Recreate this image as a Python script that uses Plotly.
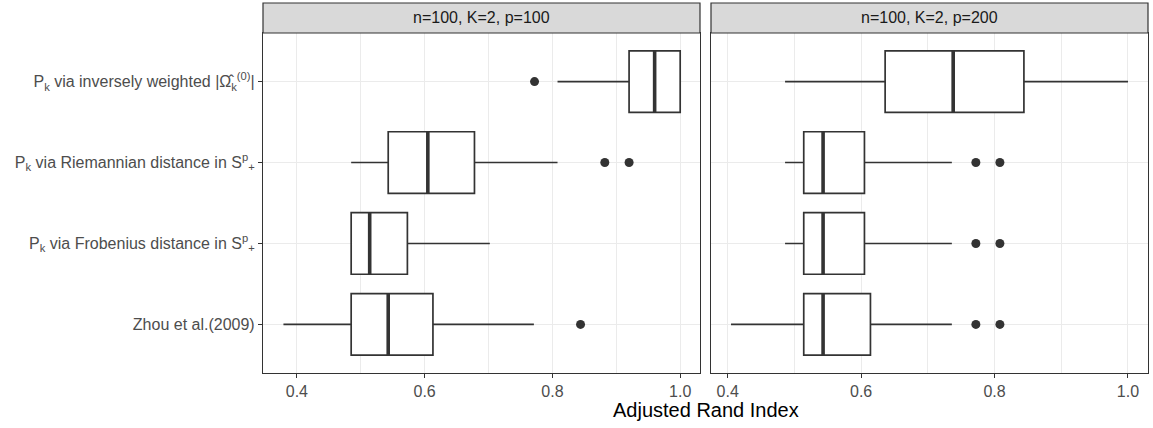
import plotly.graph_objects as go

# ---- data ----
methods = [
    "Zhou et al.(2009)",
    "P<sub>k</sub> via Frobenius distance in S<sup>p</sup><sub>+</sub>",
    "P<sub>k</sub> via Riemannian distance in S<sup>p</sup><sub>+</sub>",
    "P<sub>k</sub> via inversely weighted |Ω\u0302<sub>k</sub><sup>(0)</sup>|",
]
positions = [1, 2, 3, 4]
panels = ["n=100, K=2, p=100", "n=100, K=2, p=200"]

# panel p=100 (order: Zhou, Frobenius, Riemannian, inversely weighted)
p100_low = [0.379, 0.485, 0.485, 0.808]
p100_q1 = [0.485, 0.485, 0.543, 0.920]
p100_med = [0.543, 0.514, 0.605, 0.960]
p100_q3 = [0.613, 0.573, 0.678, 1.000]
p100_high = [0.771, 0.702, 0.808, 1.000]
p100_out_x = [0.844, 0.882, 0.920, 0.772]
p100_out_y = [1, 3, 3, 4]

# panel p=200
p200_low = [0.405, 0.486, 0.486, 0.486]
p200_q1 = [0.514, 0.514, 0.514, 0.636]
p200_med = [0.543, 0.543, 0.543, 0.738]
p200_q3 = [0.614, 0.605, 0.605, 0.844]
p200_high = [0.736, 0.736, 0.736, 1.000]
p200_out_x = [0.772, 0.808, 0.772, 0.808, 0.772, 0.808]
p200_out_y = [1, 1, 2, 2, 3, 3]

x_title = "Adjusted Rand Index"

# ---- style ----
W, H = 1153, 428
DARK = "#333333"
GRID = "#EBEBEB"
FONT = "Liberation Sans, Arial, sans-serif"
BOX_W = 0.76

def px_x(p):
    return p / W

def px_y(p):
    return 1 - p / H

dom1 = [px_x(263), px_x(700)]
dom2 = [px_x(711), px_x(1148)]
ydom = [px_y(373), px_y(33)]

fig = go.Figure()

panel_data = [
    (p100_low, p100_q1, p100_med, p100_q3, p100_high, p100_out_x, p100_out_y, "x", "y"),
    (p200_low, p200_q1, p200_med, p200_q3, p200_high, p200_out_x, p200_out_y, "x2", "y2"),
]

for low, q1, med, q3, high, ox, oy, xa, ya in panel_data:
    fig.add_trace(go.Box(
        y=positions, q1=q1, median=med, q3=q3, lowerfence=low, upperfence=high,
        orientation="h", width=BOX_W, whiskerwidth=0,
        fillcolor="white", line=dict(color=DARK, width=1.7),
        boxpoints=False, xaxis=xa, yaxis=ya, showlegend=False, hoverinfo="skip",
    ))
    # thick median bars
    mx, my = [], []
    for m, pos in zip(med, positions):
        mx += [m, m, None]
        my += [pos - BOX_W / 2, pos + BOX_W / 2, None]
    fig.add_trace(go.Scatter(
        x=mx, y=my, mode="lines", line=dict(color=DARK, width=3.6),
        xaxis=xa, yaxis=ya, showlegend=False, hoverinfo="skip",
    ))
    fig.add_trace(go.Scatter(
        x=ox, y=oy, mode="markers", marker=dict(color=DARK, size=9),
        xaxis=xa, yaxis=ya, showlegend=False, hoverinfo="skip",
    ))

xcommon = dict(
    tickmode="array", tickvals=[0.4, 0.6, 0.8, 1.0], ticktext=["0.4", "0.6", "0.8", "1.0"],
    showgrid=True, gridcolor=GRID, gridwidth=1.4,
    minor=dict(tickmode="array", tickvals=[0.3, 0.5, 0.7, 0.9], showgrid=True,
               gridcolor=GRID, gridwidth=0.7, ticks=""),
    showline=True, linecolor=DARK, linewidth=1.2, mirror=True,
    ticks="outside", ticklen=4, tickcolor=DARK, tickwidth=1.2,
    tickfont=dict(family=FONT, size=16, color="#4D4D4D"),
    zeroline=False,
)
ycommon = dict(
    range=[0.4, 4.6], tickmode="array", tickvals=positions,
    showgrid=True, gridcolor=GRID, gridwidth=1.4,
    showline=True, linecolor=DARK, linewidth=1.2, mirror=True,
    zeroline=False, domain=ydom,
)

fig.update_layout(
    width=W, height=H,
    margin=dict(l=0, r=0, t=0, b=0),
    paper_bgcolor="white", plot_bgcolor="white",
    font=dict(family=FONT, color=DARK),
    xaxis=dict(xcommon, domain=dom1, range=[0.347, 1.031], anchor="y"),
    xaxis2=dict(xcommon, domain=dom2, range=[0.375, 1.03], anchor="y2"),
    yaxis=dict(ycommon, anchor="x", ticktext=methods, ticks="outside", ticklen=4,
               tickcolor=DARK, tickwidth=1.2,
               tickfont=dict(family=FONT, size=16, color="#4D4D4D")),
    yaxis2=dict(ycommon, anchor="x2", showticklabels=False, ticks=""),
)

# facet strips
for dom, label in zip([dom1, dom2], panels):
    fig.add_shape(type="rect", xref="paper", yref="paper",
                  x0=dom[0], x1=dom[1], y0=px_y(33), y1=px_y(3),
                  fillcolor="#D9D9D9", line=dict(color=DARK, width=1.2), layer="above")
    fig.add_annotation(text=label, xref="paper", yref="paper",
                       x=(dom[0] + dom[1]) / 2, y=px_y(18), xanchor="center", yanchor="middle",
                       showarrow=False, font=dict(family=FONT, size=16, color="#1A1A1A"))

fig.add_annotation(text=x_title, xref="paper", yref="paper",
                   x=(dom1[0] + dom2[1]) / 2, y=px_y(410), xanchor="center", yanchor="middle",
                   showarrow=False, font=dict(family=FONT, size=20, color="black"))

fig.write_html("out.html", config={"displayModeBar": False},
               post_script="document.body.style.margin='0px';")
